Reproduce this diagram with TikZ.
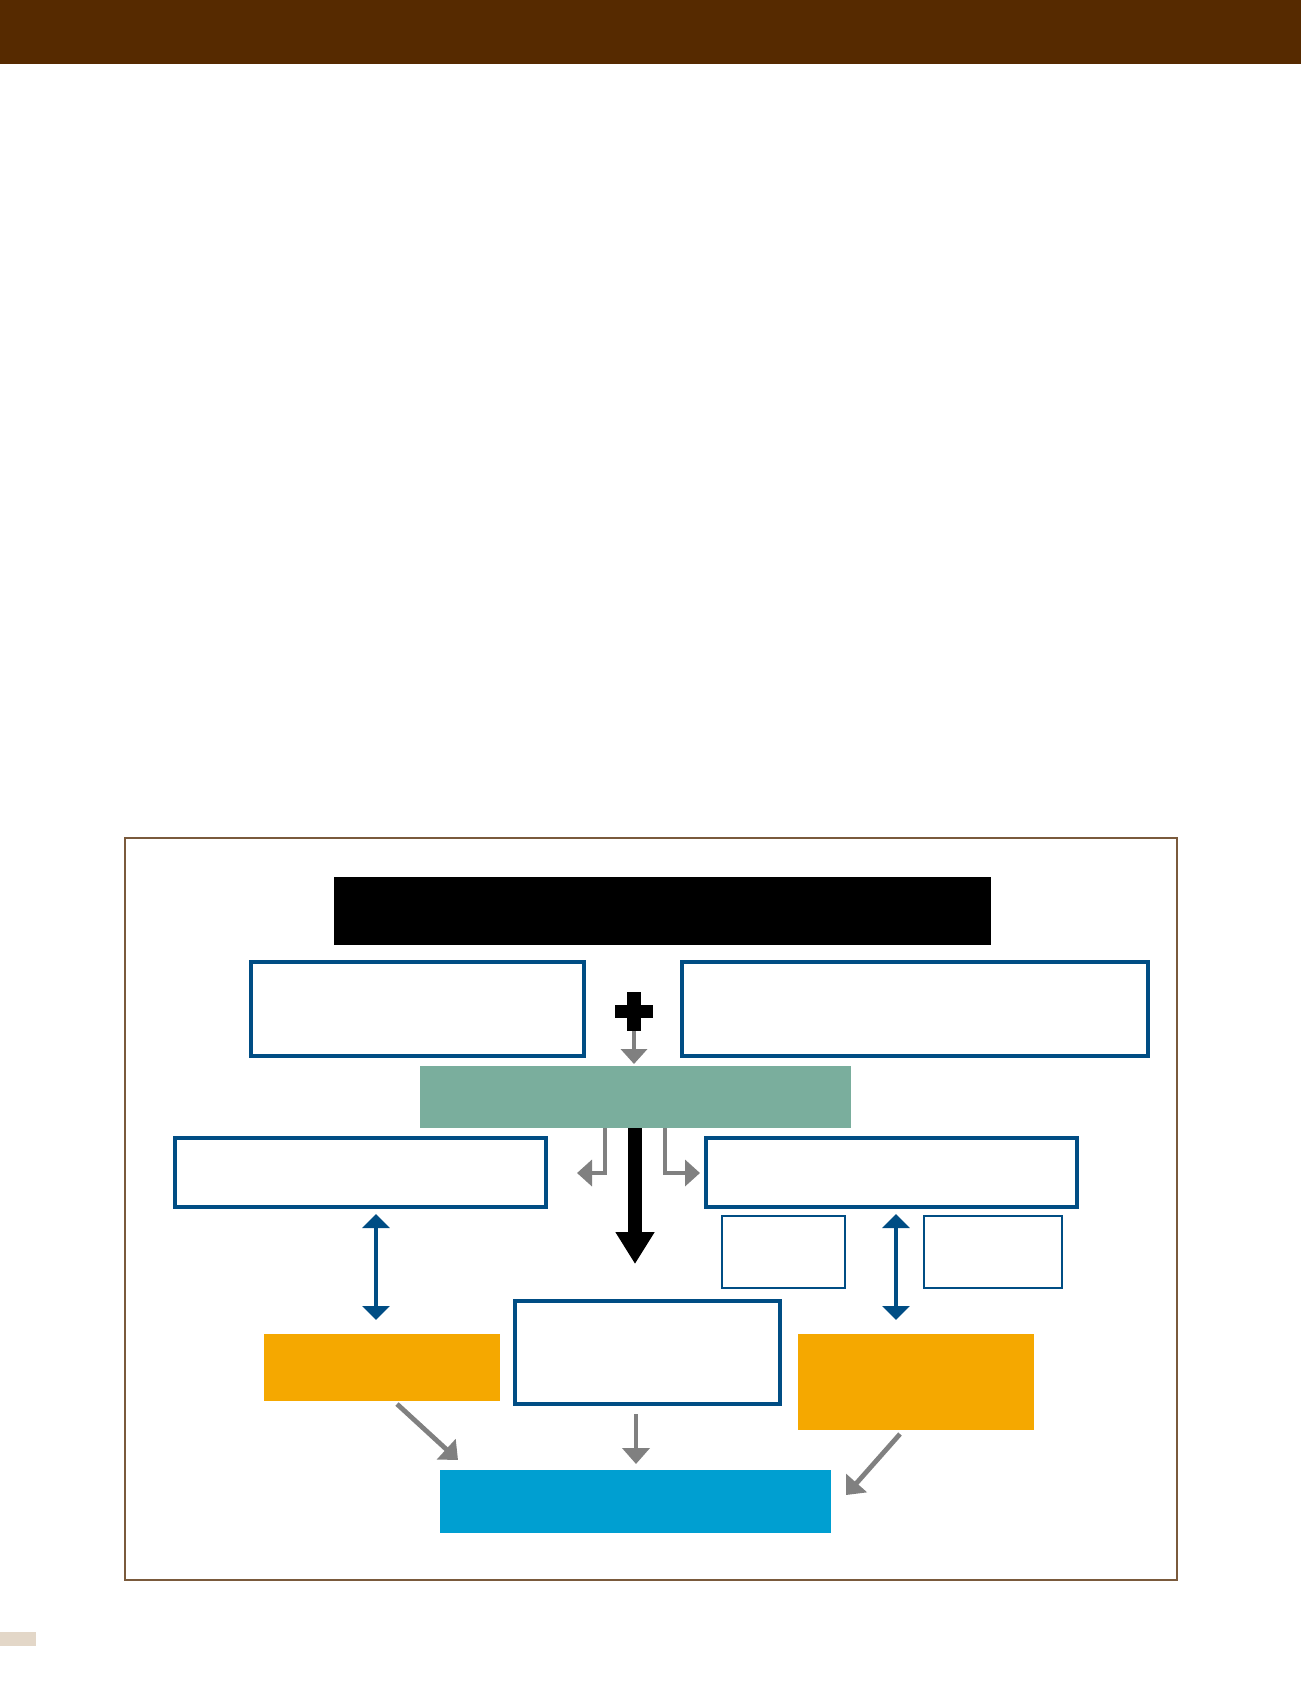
\documentclass[tikz,border=0pt]{standalone}
\usetikzlibrary{arrows.meta,fit}
\definecolor{barbrown}{HTML}{562A00}
\definecolor{framebrown}{HTML}{7A5A3C}
\definecolor{tanpatch}{HTML}{E3D7C8}
\definecolor{navy}{HTML}{004D84}
\definecolor{tealbox}{HTML}{7AAE9D}
\definecolor{amber}{HTML}{F5A800}
\definecolor{cyanbox}{HTML}{009FD1}
\definecolor{arrowgray}{HTML}{808080}
\tikzset{
  bluebox/.style={draw=navy, line width=1.6pt, fill=white, inner sep=0pt},
  thinbox/.style={draw=navy, line width=0.7pt, fill=white, inner sep=0pt},
  fillbox/.style={fill=#1, draw=none, inner sep=0pt},
  garrow/.style={draw=arrowgray, line width=2.4pt, -{Triangle[width=13pt,length=7.5pt]}},
  gdiag/.style={draw=arrowgray, line width=2.4pt, -{Triangle[width=13.5pt,length=8pt]}},
  barrow/.style={draw=black, line width=7pt, -{Triangle[width=18.5pt,length=16pt]}},
  dblarrow/.style={draw=navy, line width=2pt, {Triangle[width=13.5pt,length=7pt]}-{Triangle[width=13.5pt,length=7pt]}},
}
\begin{document}
\begin{tikzpicture}[x=0.5pt,y=-0.5pt]
\useasboundingbox (0,0) rectangle (1301,1703);
\fill[white] (0,0) rectangle (1301,1703);
\fill[barbrown] (0,0) rectangle (1301,64);
\fill[tanpatch] (0,1632) rectangle (36,1646);
\draw[framebrown, line width=0.6pt] (125,838) rectangle (1177,1580);

% boxes
\node[fillbox=black, fit={(334,877) (991,945)}] (title) {};
\node[bluebox, fit={(251,962) (584,1056)}] (tl) {};
\node[bluebox, fit={(682,962) (1148,1056)}] (tr) {};
\node[fillbox=tealbox, fit={(420,1066) (851,1128)}] (green) {};
\node[bluebox, fit={(175,1138) (546,1207)}] (lmid) {};
\node[bluebox, fit={(706,1138) (1077,1207)}] (rmid) {};
\node[thinbox, fit={(722,1216) (845,1288)}] (sm1) {};
\node[thinbox, fit={(924,1216) (1062,1288)}] (sm2) {};
\node[fillbox=amber, fit={(264,1334) (500,1401)}] (lor) {};
\node[bluebox, fit={(515,1301) (780,1404)}] (ctr) {};
\node[fillbox=amber, fit={(798,1334) (1034,1430)}] (ror) {};
\node[fillbox=cyanbox, fit={(440,1470) (831,1533)}] (res) {};

% plus sign
\node[fillbox=black, fit={(627,992) (641,1031)}] (plusv) {};
\node[fillbox=black, fit={(615,1005) (653,1018)}] (plush) {};

% coordinates
\coordinate (pe) at (634,1064);
\coordinate (e1s) at (605,1128);
\coordinate (e1e) at (577,1173);
\coordinate (e2s) at (665,1128);
\coordinate (e2e) at (700,1173);
\coordinate (bk1) at (635,1128);
\coordinate (bk2) at (635,1264);
\coordinate (d1a) at (376,1214);
\coordinate (d1b) at (376,1320);
\coordinate (d2a) at (896,1214);
\coordinate (d2b) at (896,1320);
\coordinate (g1a) at (397,1404);
\coordinate (g1b) at (458,1460);
\coordinate (g2a) at (636,1414);
\coordinate (g2b) at (636,1464);
\coordinate (g3a) at (900,1434);
\coordinate (g3b) at (846,1495);

% connectors
\draw[garrow] (plusv.south) -- (pe);
\draw[garrow] (e1s) |- (e1e);
\draw[garrow] (e2s) |- (e2e);
\draw[barrow] (bk1) -- (bk2);
\draw[dblarrow] (d1a) -- (d1b);
\draw[dblarrow] (d2a) -- (d2b);
\draw[gdiag] (g1a) -- (g1b);
\draw[gdiag] (g2a) -- (g2b);
\draw[gdiag] (g3a) -- (g3b);
\end{tikzpicture}
\end{document}
